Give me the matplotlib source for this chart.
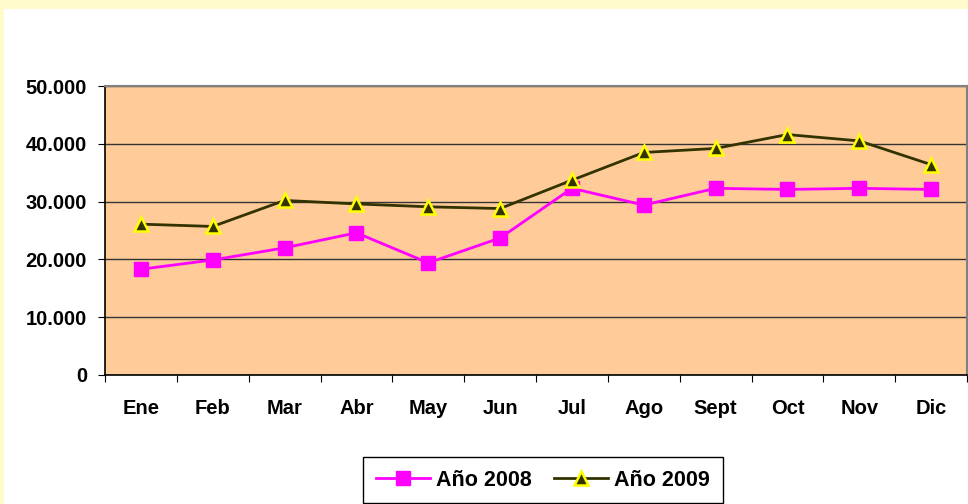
import matplotlib
matplotlib.use("Agg")
import matplotlib.pyplot as plt
from matplotlib.patches import Rectangle
from matplotlib.ticker import FixedLocator, FuncFormatter

months = ["Ene", "Feb", "Mar", "Abr", "May", "Jun", "Jul", "Ago", "Sept", "Oct", "Nov", "Dic"]
y2008 = [18300, 19900, 22000, 24600, 19400, 23700, 32300, 29400, 32300, 32100, 32300, 32100]
y2009 = [26100, 25700, 30200, 29600, 29100, 28800, 33700, 38500, 39200, 41600, 40500, 36400]
yticks = [0, 10000, 20000, 30000, 40000, 50000]

plt.rcParams['font.family'] = ['Liberation Sans', 'DejaVu Sans']
plt.rcParams['font.weight'] = 'bold'

fig = plt.figure(figsize=(9.68, 5.04), dpi=100)
fig.patch.set_facecolor('#FFFBCC')
bg = Rectangle((4/968, 0), 1, 1 - 9/504, transform=fig.transFigure,
               facecolor='white', edgecolor='none', zorder=-5)
fig.patches.append(bg)

ax = fig.add_axes([105/968, 1 - 375/504, 862/968, 289/504])
ax.set_zorder(1)
ax.set_facecolor('#FFCC99')

x = [i + 0.5 for i in range(len(months))]
ax.plot(x, y2008, color='#FF00FF', lw=2.0, marker='s', markersize=9.5,
        markerfacecolor='#FF00FF', markeredgecolor='#FF00FF', label='Año 2008', zorder=3)
ax.plot(x, y2009, color='#333300', lw=2.0, marker='^', markersize=9.5,
        markerfacecolor='#333300', markeredgecolor='#FFFF00', markeredgewidth=1.8,
        label='Año 2009', zorder=4)

ax.set_xlim(0, 12)
ax.set_ylim(0, 50000)
ax.set_yticks(yticks)
ax.yaxis.set_major_formatter(FuncFormatter(lambda v, p: f"{int(v):,}".replace(",", ".")))
ax.grid(axis='y', color='#333333', lw=1.0, zorder=1)
ax.set_axisbelow(True)

ax.xaxis.set_major_locator(FixedLocator(list(range(13))))
ax.xaxis.set_minor_locator(FixedLocator(x))
ax.set_xticklabels([])
ax.set_xticklabels(months, minor=True)
ax.tick_params(axis='x', which='major', length=5, direction='out', color='black')
ax.tick_params(axis='x', which='minor', length=0, pad=17, labelsize=14.5)
ax.tick_params(axis='y', length=5, direction='out', pad=8, labelsize=14.5)
for lab in ax.get_xticklabels(minor=True) + ax.get_yticklabels():
    lab.set_fontweight('bold')

ax.spines['left'].set_color('black')
ax.spines['bottom'].set_color('black')
ax.spines['left'].set_linewidth(1.2)
ax.spines['bottom'].set_linewidth(1.2)
ax.spines['top'].set_color('#808080')
ax.spines['right'].set_color('#808080')
ax.spines['top'].set_linewidth(1.5)
ax.spines['right'].set_linewidth(1.5)

leg = fig.legend(loc='center', bbox_to_anchor=(543/968, 1 - 480/504), ncol=2,
                 frameon=True, fancybox=False, edgecolor='black', framealpha=1,
                 prop={'weight': 'bold', 'size': 15.5}, handlelength=2.5,
                 columnspacing=1.0, handletextpad=0.3, borderpad=0.6)
leg.get_frame().set_linewidth(1.0)

fig.savefig('out.png', dpi=100, facecolor=fig.get_facecolor())
